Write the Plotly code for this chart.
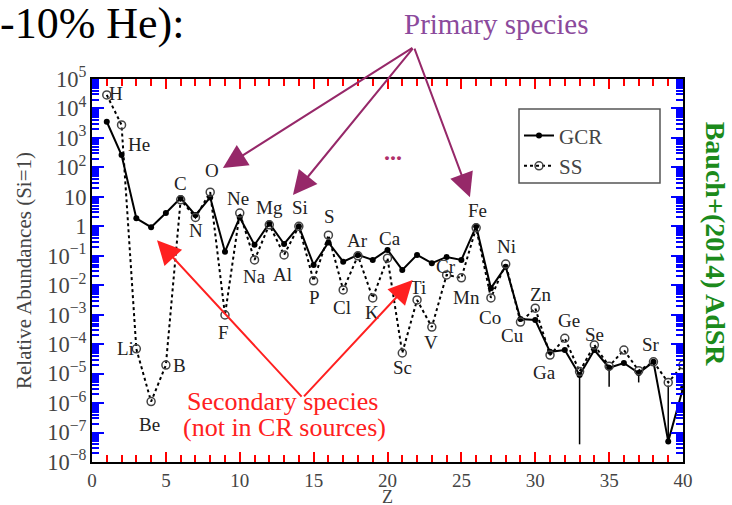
import plotly.graph_objects as go

# ---------------- data ----------------
Z = list(range(1, 41))
elements = ["H", "He", "Li", "Be", "B", "C", "N", "O", "F", "Ne",
            "Na", "Mg", "Al", "Si", "P", "S", "Cl", "Ar", "K", "Ca",
            "Sc", "Ti", "V", "Cr", "Mn", "Fe", "Co", "Ni", "Cu", "Zn",
            "Ga", "Ge", "As", "Se", "Br", "Kr", "Rb", "Sr", "Y", "Zr"]

# log10 of relative abundance (Si = 1)
gcr_log = [3.55, 2.42, 0.27, -0.03, 0.45, 0.96, 0.38, 0.98, -0.86, 0.30,
           -0.63, 0.10, -0.60, 0.00, -1.31, -0.55, -1.20, -0.97, -1.14, -0.80,
           -1.48, -0.97, -1.25, -1.04, -1.14, 0.00, -2.10, -1.37, -3.15, -3.18,
           -4.26, -4.20, -5.05, -4.20, -4.80, -4.64, -4.98, -4.60, -7.30, -5.50]
ss_log = [4.46, 3.44, -4.16, -5.95, -4.71, 0.90, 0.30, 1.16, -3.01, 0.45,
          -1.14, 0.05, -0.97, 0.00, -1.85, -0.30, -2.16, -1.00, -2.43, -1.08,
          -4.30, -2.50, -3.42, -1.65, -1.75, -0.05, -2.43, -1.28, -3.25, -2.78,
          -4.37, -3.80, -4.93, -4.03, -4.75, -4.20, -4.90, -4.60, -5.30, -4.70]
gcr_lo_log = list(gcr_log)
gcr_hi_log = list(gcr_log)
gcr_lo_log[32] = -7.40   # As
gcr_lo_log[34] = -5.45   # Br
gcr_lo_log[36] = -5.30   # Rb
gcr_hi_log[38] = -5.40   # Y

label_pos = {
    "H": (1.6, 4.52), "He": (3.2, 2.76), "Li": (2.25, -4.16), "Be": (3.92, -6.74),
    "B": (5.95, -4.74), "C": (6.02, 1.47), "N": (7.04, -0.13), "O": (8.12, 1.88),
    "F": (8.93, -3.59), "Ne": (9.88, 0.96), "Na": (11.03, -1.72), "Mg": (12.04, 0.65),
    "Al": (12.9, -1.65), "Si": (14.07, 0.65), "P": (15.09, -2.43), "S": (16.1, 0.32),
    "Cl": (16.9, -2.77), "Ar": (18.0, -0.47), "K": (18.94, -2.91), "Ca": (20.16, -0.40),
    "Sc": (21.04, -4.78), "Ti": (22.06, -2.09), "V": (22.94, -3.96), "Cr": (23.95, -1.38),
    "Mn": (25.37, -2.43), "Fe": (26.12, 0.52), "Co": (26.93, -3.11), "Ni": (28.08, -0.70),
    "Cu": (28.48, -3.69), "Zn": (30.38, -2.30), "Ga": (30.65, -4.95), "Ge": (32.27, -3.18),
    "Se": (34.03, -3.66), "Sr": (37.82, -4.00),
}

SERIF = "Liberation Serif, Times New Roman, serif"

gcr = [10 ** v for v in gcr_log]
ss = [10 ** v for v in ss_log]
err_minus = [10 ** v - 10 ** lo for v, lo in zip(gcr_log, gcr_lo_log)]
err_plus = [10 ** hi - 10 ** v for v, hi in zip(gcr_log, gcr_hi_log)]

fig = go.Figure()
fig.add_trace(go.Scatter(
    x=Z, y=gcr, name="GCR", mode="lines+markers", legendgroup="g1",
    line=dict(color="black", width=2),
    marker=dict(symbol="circle", size=6, color="black"),
    error_y=dict(type="data", symmetric=False, array=err_plus, arrayminus=err_minus,
                 color="black", thickness=1.5, width=0),
))
fig.add_trace(go.Scatter(
    x=Z, y=ss, name="SS", mode="lines+markers", legendgroup="g2",
    line=dict(color="black", width=2, dash="dot"),
    marker=dict(symbol="circle-open", size=8, color="#444", line=dict(width=1.5)),
))

ann = []
for name, (zx, ly) in label_pos.items():
    ann.append(dict(x=zx, y=ly, xref="x", yref="y", text=name, showarrow=False,
                    font=dict(family=SERIF, size=19, color="#222")))

purple = "rgb(150,40,105)"
for (tx, ty, ax, ay) in [(8.86, 1.98, 191, -121), (13.6, 1.06, 121, -148), (25.58, 0.99, -56, -150)]:
    ann.append(dict(x=tx, y=ty, xref="x", yref="y", text="", showarrow=True,
                    ax=ax, ay=ay, arrowhead=2, arrowsize=2.4, arrowwidth=2, arrowcolor=purple))
red = "#FF2020"
for (tx, ty, ax, ay) in [(4.4, -0.47, 146, 158), (21.7, -1.82, -110, 118)]:
    ann.append(dict(x=tx, y=ty, xref="x", yref="y", text="", showarrow=True,
                    ax=ax, ay=ay, arrowhead=2, arrowsize=2.4, arrowwidth=2, arrowcolor=red))

ann.append(dict(x=12.9, y=-5.96, xref="x", yref="y", text="Secondary species",
                showarrow=False, font=dict(family=SERIF, size=26, color=red)))
ann.append(dict(x=13.05, y=-6.84, xref="x", yref="y", text="(not in CR sources)",
                showarrow=False, font=dict(family=SERIF, size=26, color=red)))
ann.append(dict(x=0.683, y=1.0, xref="paper", yref="paper", yshift=55, xanchor="center", yanchor="middle",
                text="Primary species", showarrow=False, font=dict(family=SERIF, size=29, color="#8B4A9C")))
ann.append(dict(x=20.36, y=2.52, xref="x", yref="y", text="<b>...</b>", showarrow=False,
                font=dict(family=SERIF, size=24, color="#B0306A")))
ann.append(dict(x=0.0, y=1.0, xref="paper", yref="paper", xshift=-94, yshift=56, xanchor="left",
                yanchor="middle", text="-10% He):", showarrow=False,
                font=dict(family=SERIF, size=44, color="black")))
ann.append(dict(x=1.0, y=0.57, xref="paper", yref="paper", xshift=32, xanchor="center", yanchor="middle",
                text="<b>Bauch+(2014) AdSR</b>", textangle=90, showarrow=False,
                font=dict(family=SERIF, size=28, color="#1B8A1B")))
ann.append(dict(x=0.5, y=0.0, xref="paper", yref="paper", yshift=-35, xanchor="center", yanchor="middle",
                text="Z", showarrow=False, font=dict(family=SERIF, size=18, color="#444")))

fig.update_layout(
    width=732, height=505,
    margin=dict(l=92, r=49, t=79, b=43, autoexpand=False),
    paper_bgcolor="white", plot_bgcolor="white",
    font=dict(family=SERIF, color="#444"),
    showlegend=True,
    legend=dict(x=0.7225, y=0.905, xanchor="left", yanchor="top", traceorder="grouped",
                tracegroupgap=0, bgcolor="rgba(0,0,0,0)", borderwidth=0,
                font=dict(family=SERIF, size=21, color="#444"), itemwidth=30),
    shapes=[dict(type="rect", xref="paper", yref="paper",
                 x0=(519 - 92) / 591, x1=(660 - 92) / 591,
                 y0=1 - (183 - 79) / 383, y1=1 - (109 - 79) / 383,
                 line=dict(color="#555", width=1.5), fillcolor="white", layer="below")],
    annotations=ann,
    xaxis=dict(range=[0, 40], dtick=5, ticks="inside", ticklen=10, tickcolor="red", tickwidth=2,
               minor=dict(dtick=1, ticks="inside", ticklen=7, tickcolor="red", tickwidth=2),
               showline=True, linecolor="black", linewidth=2, mirror="ticks",
               showgrid=False, zeroline=False,
               tickfont=dict(family=SERIF, size=19, color="#444")),
    yaxis=dict(type="log", range=[-8, 5], dtick=1, exponentformat="power",
               ticks="inside", ticklen=12, tickcolor="blue", tickwidth=2,
               minor=dict(dtick="D1", ticks="inside", ticklen=7, tickcolor="blue", tickwidth=2),
               showline=True, linecolor="black", linewidth=2, mirror="ticks",
               showgrid=False, zeroline=False,
               tickfont=dict(family=SERIF, size=18, color="#444"),
               title=dict(text="Relative Abundances (Si=1)", font=dict(family=SERIF, size=21, color="#444"),
                          standoff=10)),
)

fig.write_html("out.html")
